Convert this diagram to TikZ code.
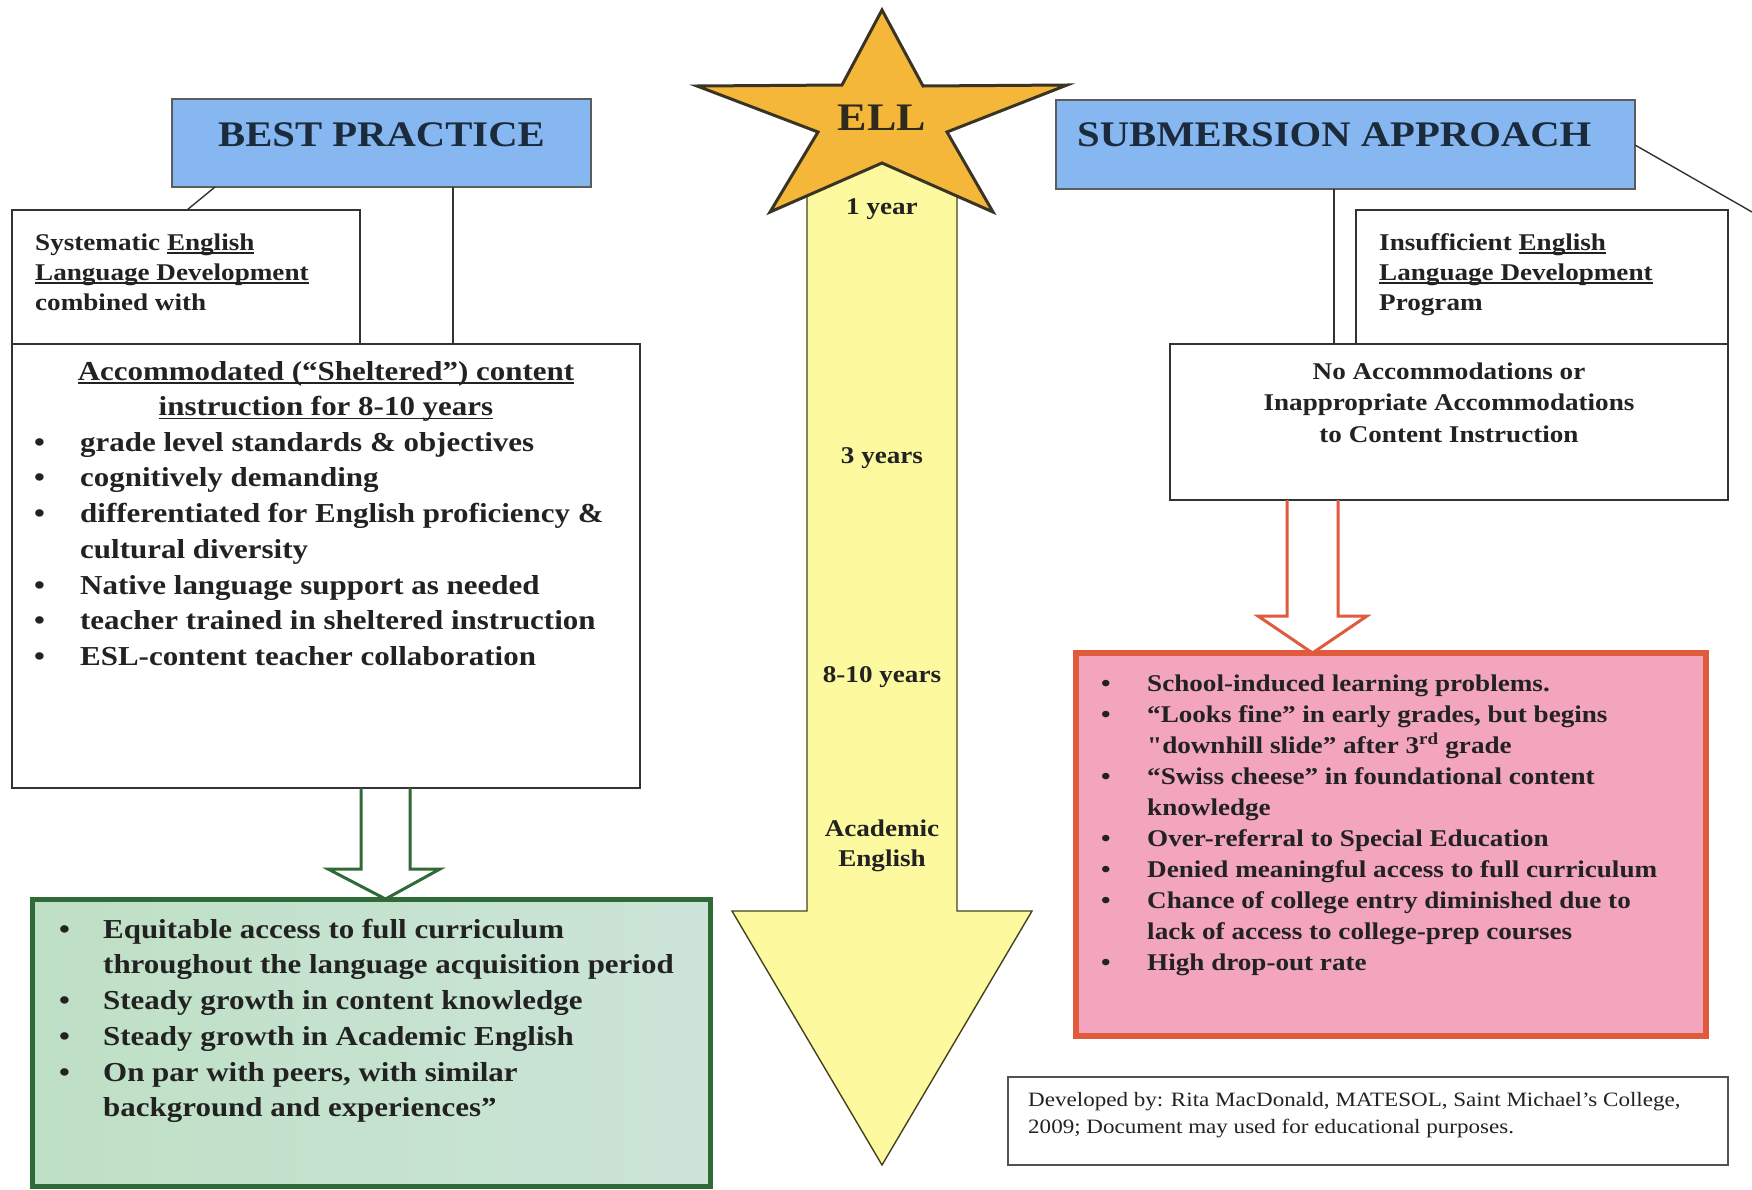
\documentclass[tikz,border=0pt]{standalone}
\usepackage{fontspec}
\setmainfont{Liberation Serif}[FakeStretch=1.13]
\newfontfamily\rawserif{Liberation Serif}[FakeStretch=1.13]
\definecolor{boxc}{HTML}{333333}
\definecolor{titleblue}{HTML}{86B7F0}
\definecolor{titletxt}{HTML}{1B2B3B}
\definecolor{starfill}{HTML}{F4B73A}
\definecolor{starline}{HTML}{3A3425}
\definecolor{ylw}{HTML}{FCF99E}
\definecolor{ylwline}{HTML}{45421F}
\definecolor{grnfillA}{HTML}{BEE0C5}
\definecolor{grnfillB}{HTML}{CCE4D8}
\definecolor{grnline}{HTML}{2F6A37}
\definecolor{pinkfill}{HTML}{F2A5BD}
\definecolor{redline}{HTML}{E05A3E}
\definecolor{txt}{HTML}{222222}
\newcommand\bul[1][46pt]{\makebox[#1][l]{\textbullet}}
\newcommand\ind[1][46pt]{\hspace*{#1}}
\newcommand\myul[1]{\setbox0\hbox{#1}\rlap{\rule[-3.5pt]{\wd0}{1.6pt}}\box0}
\begin{document}
\begin{tikzpicture}[x=1pt,y=-1pt,
  box/.style={draw=boxc, line width=2.6pt, fill=white, inner sep=0, outer sep=0, anchor=north west},
  titlebox/.style={box, draw=boxc!80, line width=2pt, fill=titleblue},
  titletext/.style={inner sep=0, text=titletxt, font=\bfseries\fontsize{36}{40}\selectfont},
  bigtext/.style={inner sep=0, text=txt, font=\bfseries\fontsize{27.4}{35.7}\selectfont},
  midtext/.style={inner sep=0, text=txt, font=\bfseries\fontsize{24}{31}\selectfont},
  systext/.style={inner sep=0, text=txt, font=\bfseries\fontsize{24}{30}\selectfont},
  yeartext/.style={inner sep=0, text=txt, font=\bfseries\fontsize{24}{30}\selectfont},
  thinline/.style={draw=boxc, line width=1.4pt},
  hollowgreen/.style={draw=grnline, line width=3pt, line join=miter},
  hollowred/.style={draw=redline, line width=3pt, line join=miter}
]
\useasboundingbox[fill=white] (0,0) rectangle (1752,1189);

% central yellow arrow
\draw[fill=ylw, draw=ylwline, line width=1.4pt, line join=miter]
  (807,150) -- (807,911) -- (732,911) -- (882,1165) -- (1032,911) -- (957,911) -- (957,150) -- cycle;

% star
\draw[fill=starfill, draw=starline, line width=3pt, line join=miter]
  (882,10) -- (923,86) -- (1067,85) -- (947,132) -- (993,212) -- (882,163)
  -- (770,212) -- (818,132) -- (697,86) -- (842,85) -- cycle;
\node[inner sep=0, text=starline!80!black, font=\bfseries\fontsize{39}{40}\selectfont, anchor=base] (ell) at (882,130) {ELL};

% year labels
\node[yeartext, anchor=base] (y1) at (882,214) {1 year};
\node[yeartext, anchor=base] (y3) at (882,463) {3 years};
\node[yeartext, anchor=base] (y810) at (882,682) {8-10 years};
\node[yeartext, anchor=north, align=center] (acad) at (882,815) {\strut Academic\\English};

% left side boxes
\node[titlebox, minimum width=419pt, minimum height=88pt] (bp) at (172,99) {};
\node[titletext, anchor=base] (bptxt) at (381.5,146) {BEST PRACTICE};
\node[box, minimum width=348pt, minimum height=134pt] (sys) at (12,210) {};
\node[box, minimum width=628pt, minimum height=444pt] (acc) at (12,344) {};
\draw[thinline] ([xshift=43pt]bp.south west) -- ([xshift=175pt]sys.north west);
\draw[thinline] ([xshift=281pt]bp.south west) -- ([xshift=441pt]acc.north west);

\node[systext, anchor=north west, align=left] (systxt) at (35,229)
  {\strut Systematic \myul{English}\\\myul{Language Development}\\combined with};

\node[bigtext, anchor=north, align=center] (acch) at (326,355)
  {\strut\myul{Accommodated (“Sheltered”) content}\\\myul{instruction for 8-10 years}};
\node[bigtext, anchor=north west, align=left] (accb) at (34,426)
  {\strut\bul grade level standards \& objectives\\
   \bul cognitively demanding\\
   \bul differentiated for English proficiency \&\\
   \ind cultural diversity\\
   \bul Native language support as needed\\
   \bul teacher trained in sheltered instruction\\
   \bul ESL-content teacher collaboration};

% green result box
\node[box, draw=grnline, line width=5pt, left color=grnfillA, right color=grnfillB,
  minimum width=678pt, minimum height=287pt] (grn) at (32,899) {};
\node[bigtext, anchor=north west, align=left] (grntxt) at (59,913)
  {\strut\bul[44pt]Equitable access to full curriculum\\
   \ind[44pt]throughout the language acquisition period\\
   \bul[44pt]Steady growth in content knowledge\\
   \bul[44pt]Steady growth in Academic English\\
   \bul[44pt]On par with peers, with similar\\
   \ind[44pt]background and experiences”};

% green hollow arrow
\fill[white] (361,789.5) -- (361,869) -- (328,869) -- (385.5,897) -- (440,869) -- (410,869) -- (410,789.5) -- cycle;
\draw[hollowgreen] ([xshift=349pt]acc.south west) -- (361,869) -- (328,869) -- ([xshift=353.5pt]grn.north west)
  -- (440,869) -- (410,869) -- ([xshift=398pt]acc.south west);

% right side boxes
\node[titlebox, minimum width=579pt, minimum height=89pt] (sa) at (1056,100) {};
\node[titletext, anchor=base west] (satxt) at (1077,146) {SUBMERSION APPROACH};
\node[box, minimum width=372pt, minimum height=134pt] (ins) at (1356,210) {};
\node[box, minimum width=558pt, minimum height=156pt] (noacc) at (1170,344) {};
\coordinate (offedge) at (1752,212);
\draw[thinline] ([yshift=44pt]sa.south east) -- (offedge);
\draw[thinline] ([xshift=278pt]sa.south west) -- ([xshift=164pt]noacc.north west);

\node[systext, anchor=north west, align=left] (instxt) at (1379,229)
  {\strut Insufficient \myul{English}\\\myul{Language Development}\\Program};
\node[midtext, anchor=north, align=center, font=\bfseries\fontsize{24}{31.5}\selectfont] (noacctxt) at (1449,357)
  {\strut No Accommodations or\\Inappropriate Accommodations\\to Content Instruction};

% pink result box
\node[box, draw=redline, line width=5.5pt, fill=pinkfill,
  minimum width=630pt, minimum height=383pt] (pink) at (1076,653) {};
\node[midtext, anchor=north west, align=left] (pinktxt) at (1101,670)
  {\strut\bul School-induced learning problems.\\
   \bul “Looks fine” in early grades, but begins\\
   \ind {\rawserif "}downhill slide” after 3\textsuperscript{rd} grade\\
   \bul “Swiss cheese” in foundational content\\
   \ind knowledge\\
   \bul Over-referral to Special Education\\
   \bul Denied meaningful access to full curriculum\\
   \bul Chance of college entry diminished due to\\
   \ind lack of access to college-prep courses\\
   \bul High drop-out rate};

% red hollow arrow
\fill[white] (1287,501.5) -- (1287,616) -- (1258,616) -- (1312.5,651) -- (1367,616) -- (1338,616) -- (1338,501.5) -- cycle;
\draw[hollowred] ([xshift=117pt]noacc.south west) -- (1287,616) -- (1258,616) -- ([xshift=236.5pt]pink.north west)
  -- (1367,616) -- (1338,616) -- ([xshift=168pt]noacc.south west);

% developed-by box
\node[box, draw=boxc!85, line width=1.6pt, minimum width=720pt, minimum height=88pt] (dev) at (1008,1077) {};
\node[inner sep=0, anchor=north west, align=left, text=txt, font=\fontsize{20.4}{27}\selectfont] (devtxt) at (1028,1087)
  {\strut Developed by: Rita MacDonald, MATESOL, Saint Michael’s College,\\2009; Document may used for educational purposes.};
\end{tikzpicture}
\end{document}
